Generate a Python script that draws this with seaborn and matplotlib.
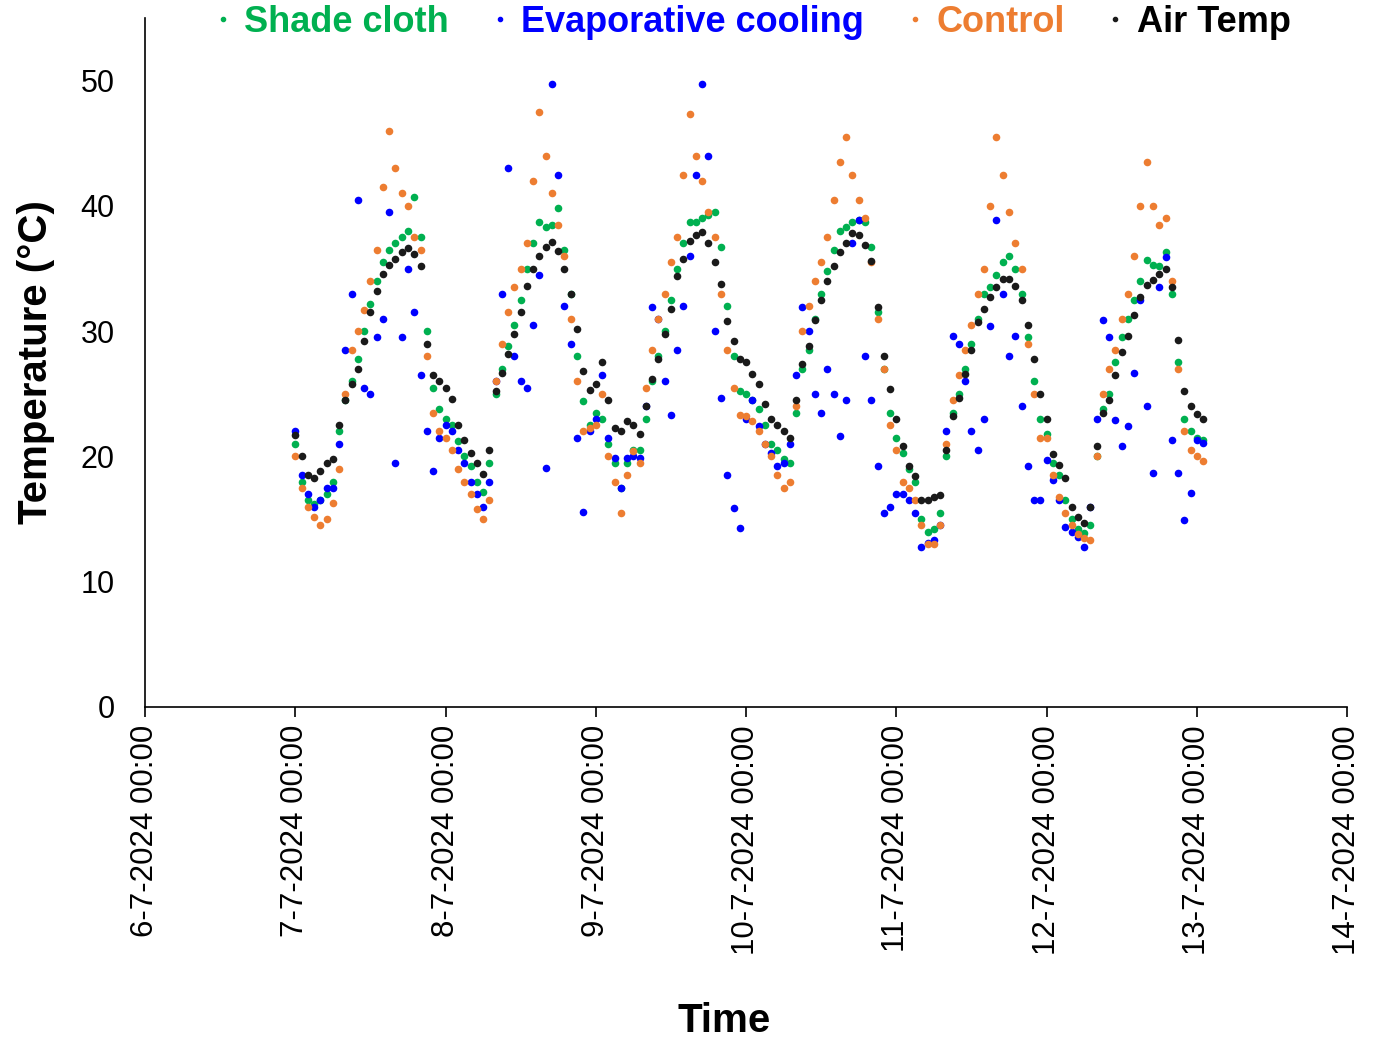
import numpy as np
import pandas as pd
import matplotlib
matplotlib.use("Agg")
import matplotlib.pyplot as plt
from matplotlib.lines import Line2D
import seaborn as sns

# ---------------- data (hourly readings, 7-7-2024 00:00 onward) ----------------
start_time = "2024-07-07 00:00"

shade_cloth = [
    21.0, 18.0, 16.5, 16.2, 16.5, 17.0, 18.0, 22.0, 24.5, 26.0, 27.8, 30.0, 32.2, 34.0, 35.5, 36.5, 37.0, 37.5, 38.0, 40.7, 37.5, 30.0, 25.5, 23.8,
    23.0, 22.5, 21.2, 20.0, 19.2, 18.0, 17.2, 19.5, 25.0, 27.0, 28.8, 30.5, 32.5, 35.0, 37.0, 38.7, 38.3, 38.5, 39.8, 36.5, 33.0, 28.0, 24.4, 22.5,
    23.5, 23.0, 21.0, 19.5, 17.5, 19.5, 20.5, 20.5, 23.0, 26.0, 28.0, 30.0, 32.5, 35.0, 37.0, 38.7, 38.7, 39.0, 39.3, 39.5, 36.7, 32.0, 28.0, 25.2,
    25.0, 24.5, 23.8, 22.5, 21.0, 20.5, 19.8, 19.5, 23.5, 27.0, 28.5, 31.0, 33.0, 34.8, 36.5, 38.0, 38.3, 38.7, 38.9, 38.7, 36.7, 31.5, 27.0, 23.5,
    21.5, 20.3, 19.0, 18.0, 15.0, 14.0, 14.2, 15.5, 20.0, 23.5, 25.0, 27.0, 29.0, 31.0, 33.0, 33.5, 34.5, 35.5, 36.0, 35.0, 33.0, 29.5, 26.0, 23.0,
    21.8, 19.5, 18.5, 16.5, 15.0, 14.2, 13.9, 14.5, 20.0, 23.8, 25.0, 27.5, 29.5, 31.0, 32.5, 34.0, 35.7, 35.3, 35.2, 36.3, 33.0, 27.5, 23.0, 22.0, 21.5, 21.3,
]

evaporative_cooling = [
    22.0, 18.5, 17.0, 16.0, 16.5, 17.5, 17.5, 21.0, 28.5, 33.0, 40.5, 25.5, 25.0, 29.5, 31.0, 39.5, 19.5, 29.5, 35.0, 31.5, 26.5, 22.0, 18.8, 21.5,
    22.5, 22.0, 20.5, 19.5, 18.0, 17.0, 16.0, 18.0, 26.0, 33.0, 43.0, 28.0, 26.0, 25.5, 30.5, 34.5, 19.1, 49.7, 42.5, 32.0, 29.0, 21.5, 15.6, 22.0,
    23.0, 26.5, 21.5, 19.9, 17.5, 19.9, 20.0, 19.9, 24.0, 31.9, 31.0, 26.0, 23.3, 28.5, 32.0, 36.0, 42.5, 49.7, 44.0, 30.0, 24.7, 18.5, 15.9, 14.3,
    23.0, 24.5, 22.4, 21.0, 20.3, 19.2, 19.5, 21.0, 26.5, 31.9, 30.0, 25.0, 23.5, 27.0, 25.0, 21.6, 24.5, 37.0, 38.9, 28.0, 24.5, 19.2, 15.5, 16.0,
    17.0, 17.0, 16.5, 15.5, 12.8, 13.1, 13.3, 14.5, 22.0, 29.6, 29.0, 26.0, 22.0, 20.5, 23.0, 30.4, 38.9, 33.0, 28.0, 29.6, 24.0, 19.2, 16.5, 16.5,
    19.7, 18.1, 16.5, 14.4, 14.0, 13.6, 12.8, 16.0, 23.0, 30.9, 29.5, 22.9, 20.8, 22.4, 26.7, 32.5, 24.0, 18.7, 33.5, 35.9, 21.3, 18.7, 14.9, 17.1, 21.3, 21.1,
]

control = [
    20.0, 17.5, 16.0, 15.2, 14.5, 15.0, 16.3, 19.0, 25.0, 28.5, 30.0, 31.7, 34.0, 36.5, 41.5, 46.0, 43.0, 41.0, 40.0, 37.5, 36.5, 28.0, 23.5, 22.0,
    21.5, 20.5, 19.0, 18.0, 17.0, 15.8, 15.0, 16.5, 26.0, 29.0, 31.5, 33.5, 35.0, 37.0, 42.0, 47.5, 44.0, 41.0, 38.5, 36.0, 31.0, 26.0, 22.0, 22.3,
    22.5, 25.0, 20.0, 18.0, 15.5, 18.5, 20.4, 19.5, 25.5, 28.5, 31.0, 33.0, 35.5, 37.5, 42.5, 47.3, 44.0, 42.0, 39.5, 37.5, 33.0, 28.5, 25.5, 23.3,
    23.2, 22.8, 22.0, 21.0, 20.0, 18.5, 17.5, 18.0, 24.0, 30.0, 32.0, 34.0, 35.5, 37.5, 40.5, 43.5, 45.5, 42.5, 40.5, 39.0, 35.5, 31.0, 27.0, 22.5,
    20.5, 18.0, 17.5, 16.5, 14.5, 13.0, 13.0, 14.5, 21.0, 24.5, 26.5, 28.5, 30.5, 33.0, 35.0, 40.0, 45.5, 42.5, 39.5, 37.0, 35.0, 29.0, 25.0, 21.5,
    21.5, 18.5, 16.8, 15.5, 14.5, 13.8, 13.5, 13.3, 20.0, 25.0, 27.0, 28.5, 31.0, 33.0, 36.0, 40.0, 43.5, 40.0, 38.5, 39.0, 34.0, 27.0, 22.0, 20.5, 20.0, 19.6,
]

air_temp = [
    21.7, 20.0, 18.5, 18.3, 18.8, 19.5, 19.8, 22.5, 24.5, 25.8, 27.0, 29.2, 31.5, 33.2, 34.6, 35.3, 35.8, 36.3, 36.6, 36.2, 35.2, 29.0, 26.5, 26.0,
    25.5, 24.6, 22.5, 21.3, 20.3, 19.5, 18.6, 20.5, 25.2, 26.7, 28.2, 29.8, 31.5, 33.6, 35.0, 36.0, 36.7, 37.1, 36.4, 35.0, 33.0, 30.2, 26.8, 25.3,
    25.8, 27.5, 24.5, 22.3, 22.0, 22.8, 22.5, 21.8, 24.0, 26.2, 27.8, 29.8, 31.8, 34.4, 35.8, 37.2, 37.7, 37.9, 37.0, 35.5, 33.8, 30.8, 29.2, 27.8,
    27.5, 26.6, 25.8, 24.2, 23.0, 22.5, 22.0, 21.5, 24.5, 27.4, 28.8, 30.9, 32.5, 34.0, 35.2, 36.3, 37.0, 37.8, 37.7, 36.9, 35.6, 31.9, 28.0, 25.4,
    23.0, 20.8, 19.2, 18.4, 16.5, 16.5, 16.8, 16.9, 20.5, 23.2, 24.7, 26.6, 28.5, 30.7, 31.8, 32.7, 33.5, 34.2, 34.2, 33.6, 32.5, 30.5, 27.8, 25.0,
    23.0, 20.2, 19.3, 18.3, 16.0, 15.2, 14.7, 16.0, 20.8, 23.5, 24.5, 26.5, 28.3, 29.6, 31.3, 32.7, 33.7, 34.1, 34.6, 35.0, 33.5, 29.3, 25.2, 24.0, 23.4, 23.0,
]

series_names = ["Shade cloth", "Evaporative cooling", "Control", "Air Temp"]
series_colors = ["#00B050", "#0000FF", "#ED7D31", "#1A1A1A"]
legend_text_colors = ["#00B050", "#0000FF", "#ED7D31", "#000000"]

x_tick_dates = ["2024-07-06", "2024-07-07", "2024-07-08", "2024-07-09", "2024-07-10",
                "2024-07-11", "2024-07-12", "2024-07-13", "2024-07-14"]
y_ticks = [0, 10, 20, 30, 40, 50]

# ---------------- build long table ----------------
times = pd.date_range(start_time, periods=len(air_temp), freq="h")
frames = []
for name, vals in zip(series_names, [shade_cloth, evaporative_cooling, control, air_temp]):
    frames.append(pd.DataFrame({"Time": times, "Temperature": vals, "Series": name}))
df = pd.concat(frames, ignore_index=True)

# ---------------- plot ----------------
sns.set_style("white")
plt.rcParams["font.family"] = ["Liberation Sans", "DejaVu Sans"]
plt.rcParams["text.color"] = "black"
plt.rcParams["axes.labelcolor"] = "black"

fig = plt.figure(figsize=(13.88, 10.4), dpi=100)
ax = fig.add_axes([0.1045, 0.3202, 0.8660, 0.6625])

palette = dict(zip(series_names, series_colors))
for name in series_names:
    sub = df[df["Series"] == name]
    sns.scatterplot(data=sub, x="Time", y="Temperature", color=palette[name],
                    s=30, linewidth=0, ax=ax, legend=False, zorder=3)

ax.set_ylim(0, 55)
ax.set_yticks(y_ticks)
tick_dt = pd.to_datetime(x_tick_dates)
ax.set_xlim(tick_dt[0], tick_dt[-1])
ax.set_xticks(tick_dt)
ax.set_xticklabels([d.strftime("%-d-%-m-%Y %H:%M") for d in tick_dt], rotation=90)

for sp in ["top", "right"]:
    ax.spines[sp].set_visible(False)
for sp in ["left", "bottom"]:
    ax.spines[sp].set_color("black")
    ax.spines[sp].set_linewidth(1.2)

ax.tick_params(axis="x", direction="out", length=7, width=1.2, colors="black",
               labelsize=22.5, pad=6, bottom=True)
ax.tick_params(axis="y", length=0, labelsize=22, pad=22, colors="black")

ax.set_xlabel("Time", fontsize=29, fontweight="bold", color="black")
ax.xaxis.set_label_coords(0.482, -0.428)
ax.set_ylabel("Temperature (°C)", fontsize=29, fontweight="bold", labelpad=18, color="black")
ax.grid(False)

handles = [Line2D([0], [0], marker="o", linestyle="none", markersize=3,
                  markerfacecolor=c, markeredgecolor=c) for c in series_colors]
leg = ax.legend(handles, series_names, loc="center", ncol=4, frameon=False,
                bbox_to_anchor=(0.503, 0.994), prop={"size": 26, "weight": "bold"},
                handletextpad=0.2, columnspacing=1.0, handlelength=0.8)
for txt, c in zip(leg.get_texts(), legend_text_colors):
    txt.set_color(c)

fig.savefig("out.png", dpi=100)
